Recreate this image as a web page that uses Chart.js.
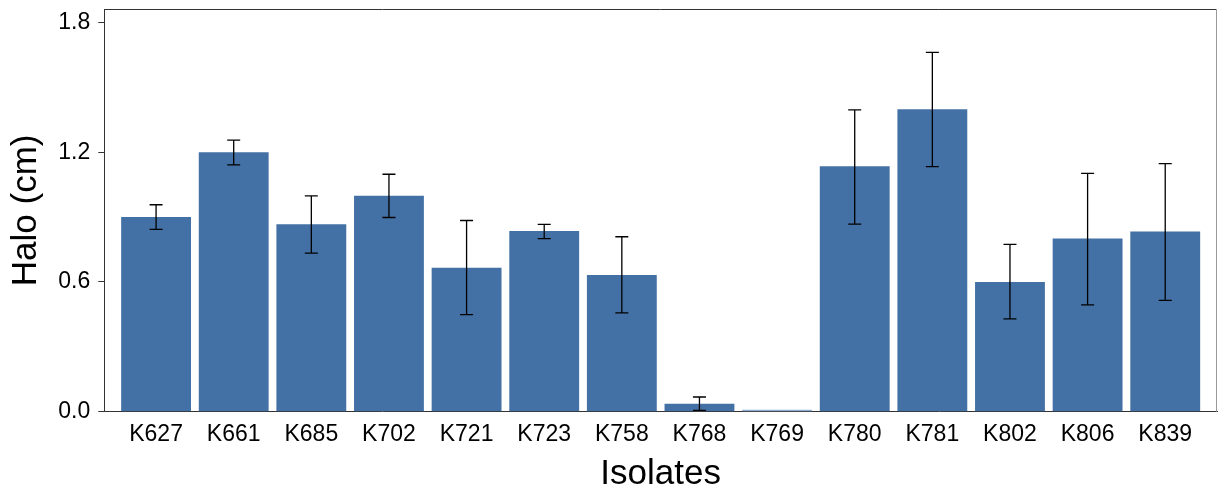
<!DOCTYPE html>
<html>
<head>
<meta charset="utf-8">
<script src="https://cdn.jsdelivr.net/npm/chart.js@4.4.1/dist/chart.umd.min.js"></script>
<style>
  html, body { margin: 0; padding: 0; background: #ffffff; }
  #wrap { width: 1218px; height: 495px; position: relative; }
</style>
</head>
<body>
<div id="wrap"><canvas id="c" width="1218" height="495"></canvas></div>
<script>
const categories = ['K627','K661','K685','K702','K721','K723','K758','K768','K769','K780','K781','K802','K806','K839'];
const haloMeans  = [0.900, 1.200, 0.867, 0.998, 0.666, 0.835, 0.632, 0.037, 0.000, 1.135, 1.398, 0.600, 0.801, 0.833];
const errLower   = [0.843, 1.141, 0.733, 0.898, 0.449, 0.800, 0.457, 0.006, null,  0.867, 1.133, 0.429, 0.494, 0.515];
const errUpper   = [0.957, 1.256, 0.998, 1.098, 0.884, 0.866, 0.809, 0.068, null,  1.396, 1.661, 0.774, 1.102, 1.147];
const yTickValues = [0.0, 0.6, 1.2, 1.8];

const FONT = '"Liberation Sans", Arial, Helvetica, sans-serif';
const BAR = '#4471a5';

const errorBarPlugin = {
  id: 'errorBars',
  afterDatasetsDraw(chart) {
    const {ctx, scales: {x, y}} = chart;
    ctx.save();
    ctx.strokeStyle = '#000000';
    ctx.lineWidth = 1.3;
    const cap = 6.5;
    categories.forEach((c, i) => {
      if (errLower[i] == null || errUpper[i] == null) return;
      const px = x.getPixelForValue(i);
      const yl = y.getPixelForValue(errLower[i]);
      const yh = y.getPixelForValue(errUpper[i]);
      ctx.beginPath();
      ctx.moveTo(px, yl); ctx.lineTo(px, yh);
      ctx.moveTo(px - cap, yl); ctx.lineTo(px + cap, yl);
      ctx.moveTo(px - cap, yh); ctx.lineTo(px + cap, yh);
      ctx.stroke();
    });
    ctx.restore();
  }
};

const framePlugin = {
  id: 'frame',
  afterDraw(chart) {
    const {ctx, chartArea: a} = chart;
    ctx.save();
    ctx.lineWidth = 1;
    ctx.strokeStyle = '#333333';
    ctx.beginPath();
    ctx.moveTo(a.left, a.top + 0.5); ctx.lineTo(a.right, a.top + 0.5);
    ctx.stroke();
    ctx.strokeStyle = '#999999';
    ctx.beginPath();
    ctx.moveTo(a.right - 0.5, a.top); ctx.lineTo(a.right - 0.5, a.bottom);
    ctx.stroke();
    ctx.restore();
  }
};

new Chart(document.getElementById('c'), {
  type: 'bar',
  data: {
    datasets: [{
      data: haloMeans.map((v, i) => ({x: i, y: v})),
      backgroundColor: ctx => (ctx.raw && ctx.raw.y === 0) ? '#8fabd0' : BAR,
      borderWidth: 0,
      minBarLength: 2,
      barPercentage: 0.9,
      categoryPercentage: 1.0
    }]
  },
  options: {
    responsive: false,
    animation: false,
    devicePixelRatio: 1,
    layout: { padding: { top: 9, right: 1, left: 0, bottom: 0 } },
    plugins: { legend: { display: false }, tooltip: { enabled: false } },
    scales: {
      x: {
        type: 'linear',
        offset: false,
        min: -0.667,
        max: 13.667,
        afterBuildTicks: s => { s.ticks = categories.map((c, i) => ({value: i})); },
        afterFit: s => { s.height = 83.3; s.paddingLeft = 0; s.paddingRight = 0; },
        grid: { display: false, offset: false },
        border: { display: true, color: '#333333', width: 1 },
        ticks: {
          autoSkip: false,
          maxRotation: 0,
          padding: 1,
          color: '#000000',
          font: { family: FONT, size: 23 },
          callback: v => categories[Math.round(v)]
        },
        title: {
          display: true,
          text: 'Isolates',
          color: '#000000',
          font: { family: FONT, size: 35 },
          padding: { top: 0, bottom: 0 }
        }
      },
      y: {
        type: 'linear',
        min: 0,
        max: 1.862,
        afterBuildTicks: s => { s.ticks = yTickValues.map(v => ({value: v})); },
        afterFit: s => { s.width = 104.3; s.paddingTop = 0; s.paddingBottom = 0; },
        grid: { display: true, drawOnChartArea: false, drawTicks: true, tickLength: 6, color: '#333333' },
        border: { display: true, color: '#333333', width: 1 },
        ticks: {
          padding: 8,
          color: '#000000',
          font: { family: FONT, size: 23 },
          callback: v => Number(v).toFixed(1)
        },
        title: {
          display: true,
          text: 'Halo (cm)',
          color: '#000000',
          font: { family: FONT, size: 35 },
          padding: { top: 5, bottom: 0 }
        }
      }
    }
  },
  plugins: [errorBarPlugin, framePlugin]
});
</script>
</body>
</html>
